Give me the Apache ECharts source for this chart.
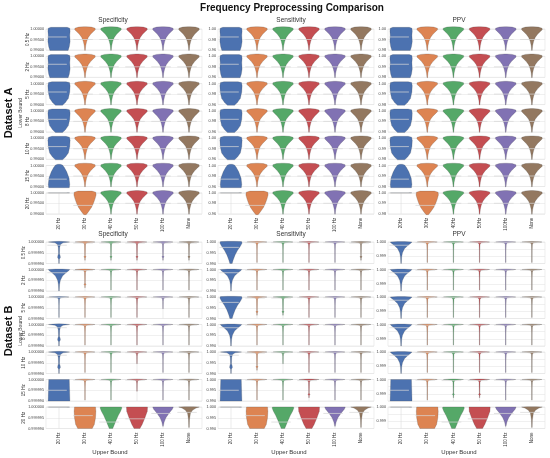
<!DOCTYPE html>
<html>
<head>
<meta charset="utf-8">
<script src="https://cdn.jsdelivr.net/npm/echarts@6/dist/echarts.min.js"></script>
<style>
  html, body { margin: 0; padding: 0; background: #fff; }
  #main { width: 550px; height: 458px; }
</style>
</head>
<body>
<div id="main"></div>
<script>
// ---- data ----
const metrics = ['Specificity', 'Sensitivity', 'PPV'];
const lowerBounds = ['0.5 Hz', '2 Hz', '5 Hz', '8 Hz', '10 Hz', '15 Hz', '20 Hz'];
const upperBounds = ['20 Hz', '30 Hz', '40 Hz', '50 Hz', '100 Hz', 'None'];
const upperBoundsPPV = ['20Hz', '30Hz', '40Hz', '50Hz', '100Hz', 'None'];

// y axis per metric: [min, max, interval, decimals]
const axisA = [[0.99, 1.0, 0.005, 5], [0.96, 1.0, 0.02, 2], [0.98, 1.0, 0.01, 2]];
const axisB = [[0.99999, 1.0, 0.000005, 6], [0.99, 1.0, 0.005, 3], [0.9985, 1.0, 0.0005, 3]];

// violin density profiles: [position in axis range (0 = min, 1 = max), relative width]
const boxShape = [[-0.02, 0.78], [0.15, 0.88], [0.4, 0.95], [0.7, 0.92], [0.9, 0.95], [1.04, 0.92], [1.08, 0.7]];
const boxTaperShape = [[-0.03, 0.3], [0.1, 0.55], [0.3, 0.8], [0.6, 0.92], [0.9, 0.95], [1.05, 0.9], [1.09, 0.6]];
const domeShape = [[-0.06, 0.88], [0.1, 0.92], [0.4, 0.86], [0.7, 0.66], [0.9, 0.46], [1.02, 0.3], [1.06, 0.1]];
const flatShape = [[0.995, 0.9], [1.0, 0.9]];
const funnelShape = [[-0.02, 0.02], [0.2, 0.06], [0.4, 0.14], [0.6, 0.28], [0.75, 0.48], [0.88, 0.72], [0.97, 0.88], [1.04, 0.86], [1.09, 0.55], [1.11, 0.1]];
const funnelWideShape = [[-0.04, 0.1], [0.1, 0.3], [0.3, 0.55], [0.5, 0.72], [0.7, 0.85], [0.9, 0.95], [1.03, 0.92], [1.08, 0.6]];
const spikeShape = [[0.05, 0.015], [0.6, 0.02], [0.9, 0.04], [0.96, 0.15], [0.99, 0.5], [1.0, 0.85], [1.015, 0.5], [1.025, 0.05]];
const spikeShortShape = [[0.45, 0.015], [0.8, 0.025], [0.93, 0.05], [0.97, 0.2], [0.99, 0.55], [1.0, 0.85], [1.015, 0.5], [1.025, 0.05]];
const spikeBlobShape = [[0.15, 0.015], [0.26, 0.02], [0.31, 0.09], [0.36, 0.02], [0.88, 0.04], [0.96, 0.15], [0.99, 0.5], [1.0, 0.85], [1.015, 0.5], [1.025, 0.05]];
const bulbShape = [[0.0, 0.02], [0.2, 0.03], [0.28, 0.12], [0.36, 0.1], [0.45, 0.04], [0.75, 0.06], [0.9, 0.15], [0.96, 0.35], [1.0, 0.9], [1.02, 0.5], [1.03, 0.05]];
const fillShape = [[0.0, 0.1], [0.15, 0.18], [0.4, 0.35], [0.6, 0.55], [0.8, 0.8], [0.95, 0.95], [1.02, 0.9], [1.03, 0.3]];
const fillTailShape = [[0.0, 0.02], [0.3, 0.05], [0.5, 0.12], [0.7, 0.3], [0.85, 0.6], [0.95, 0.85], [1.0, 0.92], [1.02, 0.3]];
const trapShape = [[0.0, 0.93], [1.0, 0.88]];
const bulkShape = [[0.0, 0.62], [0.2, 0.8], [0.5, 0.9], [0.8, 0.93], [1.0, 0.9]];
const bellShape = [[0.0, 0.15], [0.2, 0.3], [0.4, 0.45], [0.6, 0.62], [0.8, 0.82], [0.95, 0.93], [1.0, 0.9]];
const bellWideShape = [[0.0, 0.25], [0.2, 0.45], [0.5, 0.68], [0.8, 0.88], [1.0, 0.9]];
const funnelMidShape = [[0.1, 0.02], [0.3, 0.1], [0.5, 0.25], [0.7, 0.5], [0.9, 0.8], [1.0, 0.88]];
const spikeFunnelShape = [[0.05, 0.02], [0.4, 0.04], [0.7, 0.12], [0.85, 0.3], [0.95, 0.6], [1.0, 0.88], [1.015, 0.4]];

// mean position of each profile (same 0..1 scale)
const shapeMeans = {
  box: 0.62, boxTaper: 0.6, dome: 0.35, flat: 1, funnel: 0.5, funnelWide: 0.4,
  spike: 0.97, spikeShort: 0.97, spikeBlob: 0.95, bulb: 0.85, fill: 0.75, fillTail: 0.85,
  trap: 0.5, bulk: 0.6, bell: 0.3, bellWide: 0.45, funnelMid: 0.7, spikeFunnel: 0.75
};

// Dataset A: same pattern for the three metrics
const shapesA = [
  ['box', 'funnel', 'funnel', 'funnel', 'funnel', 'funnel'],
  ['box', 'funnel', 'funnel', 'funnel', 'funnel', 'funnel'],
  ['boxTaper', 'funnel', 'funnel', 'funnel', 'funnel', 'funnel'],
  ['boxTaper', 'funnel', 'funnel', 'funnel', 'funnel', 'funnel'],
  ['boxTaper', 'funnel', 'funnel', 'funnel', 'funnel', 'funnel'],
  ['dome', 'funnel', 'funnel', 'funnel', 'funnel', 'funnel'],
  ['flat', 'funnelWide', 'funnel', 'funnel', 'funnel', 'funnel']
];
const shapesBSpec = [
  ['bulb', 'spikeBlob', 'spikeBlob', 'spikeBlob', 'spikeBlob', 'spikeBlob'],
  ['fillTail', 'spikeBlob', 'spike', 'spike', 'spike', 'spike'],
  ['spike', 'spike', 'spike', 'spike', 'spikeShort', 'spike'],
  ['bulb', 'spike', 'spike', 'spike', 'spike', 'spike'],
  ['bulb', 'spike', 'spike', 'spikeShort', 'spike', 'spike'],
  ['trap', 'spike', 'spike', 'spikeShort', 'spike', 'spike'],
  ['flat', 'bulk', 'bell', 'bellWide', 'funnelMid', 'spikeFunnel']
];
const shapesBSens = [
  ['fill', 'spike', 'spike', 'spike', 'spike', 'spikeBlob'],
  ['fillTail', 'spike', 'spike', 'spike', 'spike', 'spike'],
  ['fill', 'spikeBlob', 'spikeBlob', 'spike', 'spike', 'spike'],
  ['fillTail', 'spike', 'spike', 'spike', 'spike', 'spike'],
  ['bulb', 'spikeBlob', 'spikeShort', 'spike', 'spike', 'spike'],
  ['trap', 'spike', 'spike', 'spikeBlob', 'spike', 'spike'],
  ['flat', 'bulk', 'bell', 'bellWide', 'funnelMid', 'spikeFunnel']
];
const shapesBPPV = [
  ['fillTail', 'spike', 'spike', 'spike', 'spike', 'spike'],
  ['fillTail', 'spike', 'spike', 'spike', 'spike', 'spike'],
  ['fillTail', 'spike', 'spike', 'spike', 'spike', 'spike'],
  ['fillTail', 'spike', 'spike', 'spike', 'spike', 'spike'],
  ['fillTail', 'spike', 'spike', 'spike', 'spike', 'spike'],
  ['trap', 'spike', 'spikeBlob', 'spikeBlob', 'spike', 'spike'],
  ['flat', 'bulk', 'bell', 'bellWide', 'funnelMid', 'spikeFunnel']
];

const profiles = {
  box: boxShape, boxTaper: boxTaperShape, dome: domeShape, flat: flatShape,
  funnel: funnelShape, funnelWide: funnelWideShape, spike: spikeShape,
  spikeShort: spikeShortShape, spikeBlob: spikeBlobShape, bulb: bulbShape,
  fill: fillShape, fillTail: fillTailShape, trap: trapShape, bulk: bulkShape,
  bell: bellShape, bellWide: bellWideShape, funnelMid: funnelMidShape, spikeFunnel: spikeFunnelShape
};

// seaborn "deep"
const colors = ['#4c72b0', '#dd8452', '#55a868', '#c44e52', '#8172b3', '#937860'];

// ---- layout ----
const colLeft = [46, 218, 388];
const colWidth = [156, 156, 157];
const font = 'Liberation Sans, Arial, sans-serif';

const chart = echarts.init(document.getElementById('main'));

function violinRender(shapes, mn, mx) {
  return function (params, api) {
    const idx = api.value(0);
    const name = shapes[idx];
    const pts = profiles[name];
    const band = api.size([1, 0])[0];
    const half = band * 0.45;
    const toY = t => api.coord([idx, mn + t * (mx - mn)])[1];
    const cx = api.coord([idx, mn])[0];
    const left = pts.map(p => [cx - p[1] * half, toY(p[0])]);
    const right = pts.slice().reverse().map(p => [cx + p[1] * half, toY(p[0])]);
    const my = toY(shapeMeans[name]);
    return {
      type: 'group',
      children: [
        { type: 'line', shape: { x1: cx, y1: toY(0), x2: cx, y2: toY(1) },
          style: { stroke: '#dedede', lineWidth: 0.6 } },
        { type: 'polygon', shape: { points: left.concat(right) },
          style: { fill: colors[idx], stroke: 'rgba(60,60,60,0.5)', lineWidth: 0.4 } },
        { type: 'line', shape: { x1: cx - band * 0.45, y1: my, x2: cx + band * 0.3, y2: my },
          style: { stroke: 'rgba(215,215,215,0.9)', lineWidth: 0.8 } }
      ]
    };
  };
}

const grids = [], xAxes = [], yAxes = [], series = [];
const shapesB = [shapesBSpec, shapesBSens, shapesBPPV];

[0, 1].forEach(d => {
  lowerBounds.forEach((lb, r) => {
    metrics.forEach((m, c) => {
      const gi = grids.length;
      const top = d === 0 ? 29 + 27.3 * r : 242 + 27.5 * r;
      const [mn, mx, iv, dec] = (d === 0 ? axisA : axisB)[c];
      const shapes = d === 0 ? shapesA[r] : shapesB[c][r];
      grids.push({
        left: colLeft[c], top: top, width: colWidth[c], height: d === 0 ? 21 : 21.5,
        show: true, borderColor: '#e2e2e2', borderWidth: 0.6, backgroundColor: '#fff'
      });
      xAxes.push({
        type: 'category', gridIndex: gi,
        data: d === 0 && c === 2 ? upperBoundsPPV : upperBounds,
        axisLine: { show: false }, axisTick: { show: false }, splitLine: { show: false },
        axisLabel: { show: r === 6, rotate: 90, fontSize: 4.5, color: '#333', margin: 4, fontFamily: font }
      });
      yAxes.push({
        type: 'value', gridIndex: gi, min: mn, max: mx, interval: iv,
        axisLine: { show: false }, axisTick: { show: false },
        splitLine: { lineStyle: { color: '#e6e6e6', width: 0.6 } },
        axisLabel: {
          fontSize: 3.8, color: '#444', margin: 2, fontFamily: font,
          formatter: v => {
            if (d === 1 && c === 2 && Math.abs(Math.round(v * 1000) - v * 1000) > 1e-6) return '';
            return v.toFixed(dec);
          }
        },
        name: c === 0 ? lb : '', nameLocation: 'middle', nameRotate: 90,
        nameGap: d === 0 ? 16 : 20, nameMoveOverlap: false,
        nameTextStyle: { fontSize: 4.5, color: '#333', fontFamily: font }
      });
      series.push({
        type: 'custom', xAxisIndex: gi, yAxisIndex: gi, silent: true,
        data: shapes.map((s, i) => [i]),
        renderItem: violinRender(shapes, mn, mx)
      });
    });
  });
});

const colTitleX = [113, 291, 459];
const texts = [
  { type: 'text', x: 292, y: 8, style: { text: 'Frequency Preprocessing Comparison', font: 'bold 10px ' + font, fill: '#111', textAlign: 'center', textVerticalAlign: 'middle' } },
  { type: 'text', x: 9, y: 113, rotation: Math.PI / 2, style: { text: 'Dataset A', font: 'bold 11px ' + font, fill: '#111', textAlign: 'center', textVerticalAlign: 'middle' } },
  { type: 'text', x: 9, y: 331, rotation: Math.PI / 2, style: { text: 'Dataset B', font: 'bold 11px ' + font, fill: '#111', textAlign: 'center', textVerticalAlign: 'middle' } },
  { type: 'text', x: 21, y: 113, rotation: Math.PI / 2, style: { text: 'Lower Bound', font: '5px ' + font, fill: '#333', textAlign: 'center', textVerticalAlign: 'middle' } },
  { type: 'text', x: 21, y: 331, rotation: Math.PI / 2, style: { text: 'Lower Bound', font: '5px ' + font, fill: '#333', textAlign: 'center', textVerticalAlign: 'middle' } }
];
metrics.forEach((m, c) => {
  texts.push({ type: 'text', x: colTitleX[c], y: 20, style: { text: m, font: '6.5px ' + font, fill: '#333', textAlign: 'center', textVerticalAlign: 'middle' } });
  texts.push({ type: 'text', x: colTitleX[c], y: 234, style: { text: m, font: '6.5px ' + font, fill: '#333', textAlign: 'center', textVerticalAlign: 'middle' } });
  texts.push({ type: 'text', x: [110, 289, 459][c], y: 452, style: { text: 'Upper Bound', font: '6px ' + font, fill: '#333', textAlign: 'center', textVerticalAlign: 'middle' } });
});

chart.setOption({
  animation: false,
  backgroundColor: '#fff',
  grid: grids,
  xAxis: xAxes,
  yAxis: yAxes,
  series: series,
  graphic: texts
});
</script>
</body>
</html>
